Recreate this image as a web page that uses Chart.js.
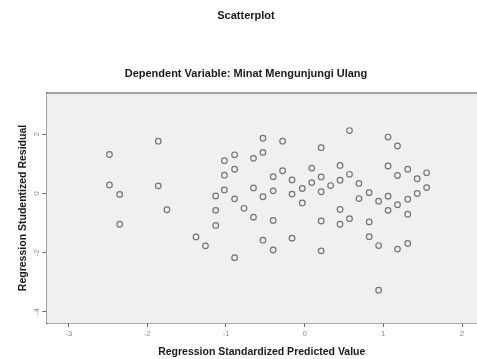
<!DOCTYPE html>
<html>
<head>
<meta charset="utf-8">
<script src="https://cdn.jsdelivr.net/npm/chart.js@4.4.1/dist/chart.umd.min.js"></script>
<style>
  html, body { margin: 0; padding: 0; background: #fff; }
  #wrap { width: 477px; height: 359px; }
</style>
</head>
<body>
<div id="wrap"><canvas id="scatter-chart"></canvas></div>
<script>
// values
const predictedValues = [
    -2.48, -1.86, -2.48, -2.35, -1.86, -1.75, -2.35, -1.38, -1.26, -1.13,
    -1.13, -1.13, -1.02, -1.02, -1.02, -0.89, -0.89, -0.89, -0.89, -0.53,
    -0.28, -0.65, -0.53, 0.21, 0.57, 1.06, 1.18, -0.28, -0.40, -0.16,
    0.09, 0.21, 0.09, -0.03, -0.16, -0.40, -0.53, -0.65, -0.77, -0.65,
    -0.40, -0.03, 0.21, 0.33, 0.45, 0.45, 0.57, 0.69, 0.82, 0.69,
    0.94, 1.06, 1.06, 1.06, 1.18, 1.31, 1.43, 1.55, 1.55, 1.43,
    1.31, 1.18, 1.31, 0.45, 0.57, 0.45, 0.21, 0.82, 0.82, 0.94,
    1.18, 1.31, -0.53, -0.40, -0.16, 0.21, 0.94
];
const studentizedResiduals = [
    1.32, 1.77, 0.29, -0.03, 0.26, -0.55, -1.04, -1.47, -1.77, -0.08,
    -0.57, -1.08, 1.11, 0.62, 0.12, 1.31, 0.82, -0.18, -2.17, 1.87,
    1.77, 1.19, 1.39, 1.55, 2.13, 1.91, 1.61, 0.77, 0.57, 0.46,
    0.86, 0.56, 0.37, 0.17, -0.02, 0.09, -0.11, 0.19, -0.50, -0.80,
    -0.91, -0.32, 0.06, 0.27, 0.95, 0.45, 0.65, 0.34, 0.03, -0.17,
    -0.26, 0.93, -0.09, -0.57, 0.61, 0.82, 0.50, 0.70, 0.20, 0.00,
    -0.19, -0.38, -0.70, -0.54, -0.85, -1.04, -0.93, -0.96, -1.46, -1.76,
    -1.88, -1.69, -1.58, -1.91, -1.51, -1.94, -3.27
];
const xTicks = [-3, -2, -1, 0, 1, 2];
const yTicks = [-4, -2, 0, 2];

const points = predictedValues.map(function(x, i){
    return { x: x, y: studentizedResiduals[i] };
});

const fontFamily = '"Liberation Sans", Arial, sans-serif';

// background, top border, titles and tick labels
const spssLook = {
    id: 'spssLook',
    beforeDatasetsDraw: function(chart){
        const ctx = chart.ctx;
        const a = chart.chartArea;
        ctx.save();
        ctx.fillStyle = '#f0f0f0';
        ctx.fillRect(a.left, a.top, a.right - a.left, a.bottom - a.top);
        ctx.strokeStyle = '#8a8a8a';
        ctx.lineWidth = 1.5;
        ctx.beginPath();
        ctx.moveTo(a.left, a.top);
        ctx.lineTo(a.right, a.top);
        ctx.stroke();
        ctx.restore();
    },
    afterDraw: function(chart){
        const ctx = chart.ctx;
        ctx.save();
        ctx.fillStyle = '#1a1a1a';
        ctx.textAlign = 'center';
        ctx.textBaseline = 'middle';
        ctx.font = 'bold 11px ' + fontFamily;
        ctx.fillText('Scatterplot', 246, 16);
        ctx.fillText('Dependent Variable: Minat Mengunjungi Ulang', 246, 74);

        ctx.fillStyle = '#8c8c8c';
        ctx.font = '8px ' + fontFamily;
        // x tick labels
        const xScale = chart.scales.x;
        xTicks.forEach(function(v){
            ctx.fillText(String(v), xScale.getPixelForValue(v), 334);
        });
        // y tick labels, vertical like the original
        const yScale = chart.scales.y;
        yTicks.forEach(function(v){
            const py = yScale.getPixelForValue(v);
            ctx.save();
            ctx.translate(37, py);
            ctx.rotate(-Math.PI / 2);
            ctx.fillText(String(v), 0, 0);
            ctx.restore();
        });
        ctx.restore();
    }
};

const data = {
    datasets: [{
        label: 'residuals',
        data: points,
        pointRadius: 2.8,
        pointHoverRadius: 2.8,
        pointBorderWidth: 1.2,
        pointBorderColor: '#737373',
        pointBackgroundColor: 'rgba(0,0,0,0)'
    }]
};

const options = {
    animation: false,
    responsive: true,
    maintainAspectRatio: false,
    layout: { autoPadding: false, padding: { top: 93, left: 0, right: 0, bottom: 0 } },
    plugins: {
        legend: { display: false },
        tooltip: { enabled: false },
        title: { display: false }
    },
    scales: {
        x: {
            type: 'linear',
            min: -3.28,
            max: 2.19,
            afterBuildTicks: function(scale){
                scale.ticks = xTicks.map(function(v){ return { value: v }; });
            },
            afterFit: function(scale){ scale.height = 36; },
            grid: { display: true, drawOnChartArea: false, drawTicks: true, tickLength: 4, color: '#666' },
            border: { display: true, color: '#555', width: 1.5 },
            ticks: { display: false },
            title: {
                display: true,
                text: 'Regression Standardized Predicted Value',
                color: '#1a1a1a',
                font: { family: fontFamily, size: 10.5, weight: 'bold' },
                padding: { top: 0, bottom: 1 }
            }
        },
        y: {
            type: 'linear',
            min: -4.38,
            max: 3.40,
            afterBuildTicks: function(scale){
                scale.ticks = yTicks.map(function(v){ return { value: v }; });
            },
            afterFit: function(scale){ scale.width = 46.5; },
            grid: { display: true, drawOnChartArea: false, drawTicks: true, tickLength: 4, color: '#666' },
            border: { display: true, color: '#555', width: 1.5 },
            ticks: { display: false },
            title: {
                display: true,
                text: 'Regression Studentized Residual',
                color: '#1a1a1a',
                font: { family: fontFamily, size: 10.5, weight: 'bold' },
                padding: { top: 17, bottom: 0 }
            }
        }
    }
};

let chartElement = document.getElementById('scatter-chart').getContext('2d');
let scatterChart = new Chart(chartElement, {
    type: 'scatter',
    data: data,
    options: options,
    plugins: [spssLook]
});
</script>
</body>
</html>
